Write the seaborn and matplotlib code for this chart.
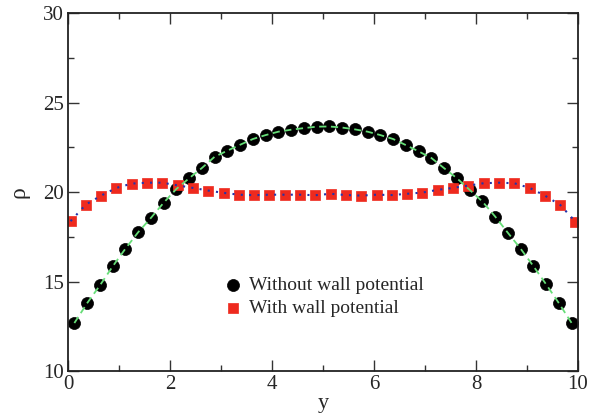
import numpy as np
import pandas as pd
import matplotlib
matplotlib.use("Agg")
import matplotlib.pyplot as plt
import seaborn as sns

# ── Data ─────────────────────────────────────────────────────────────────────
y_nowall = [0.125 + 0.25 * i for i in range(40)]
rho_nowall = [12.68, 13.79, 14.78, 15.84, 16.83, 17.75, 18.55, 19.40,
              20.17, 20.77, 21.34, 21.97, 22.31, 22.64, 22.96, 23.18,
              23.37, 23.48, 23.57, 23.65, 23.66, 23.60, 23.50, 23.37,
              23.18, 22.96, 22.62, 22.27, 21.90, 21.33, 20.77, 20.12,
              19.47, 18.63, 17.72, 16.83, 15.86, 14.84, 13.79, 12.68]

y_wall = [0.05 + 0.3 * i for i in range(34)]
rho_wall = [18.37, 19.30, 19.80, 20.23, 20.47, 20.52, 20.52, 20.37,
            20.23, 20.08, 19.95, 19.85, 19.82, 19.85, 19.85, 19.85,
            19.82, 19.90, 19.83, 19.80, 19.85, 19.83, 19.90, 19.97,
            20.12, 20.23, 20.36, 20.49, 20.52, 20.49, 20.23, 19.80,
            19.28, 18.34]

label_nowall = "Without wall potential"
label_wall = "With wall potential"

df_nowall = pd.DataFrame({"y": y_nowall, "rho": rho_nowall})
df_wall = pd.DataFrame({"y": y_wall, "rho": rho_wall})

# ── Plot ─────────────────────────────────────────────────────────────────────
sns.set_style("ticks")
plt.rcParams["font.family"] = ["Liberation Serif", "DejaVu Serif"]
plt.rcParams["mathtext.fontset"] = "stix"

fig = plt.figure(figsize=(6.05, 4.17), dpi=100)
ax = fig.add_axes([0.1124, 0.1103, 0.8430, 0.8585])

sns.scatterplot(data=df_nowall, x="y", y="rho", ax=ax, marker="o", s=75,
                color="black", edgecolor="black", linewidth=0.5,
                label=label_nowall, zorder=2)
sns.scatterplot(data=df_wall, x="y", y="rho", ax=ax, marker="s", s=60,
                color="#ee2a1e", edgecolor="#ee2a1e", linewidth=0.5,
                label=label_wall, zorder=2)
sns.lineplot(data=df_nowall, x="y", y="rho", ax=ax, color="#66dd77",
             linestyle=(0, (4, 2.5)), linewidth=1.3, zorder=3, legend=False)
sns.lineplot(data=df_wall, x="y", y="rho", ax=ax, color="#2233aa",
             linestyle=(0, (1, 3)), linewidth=1.5, zorder=3, legend=False)

ax.set_xlim(0, 10)
ax.set_ylim(10, 30)
ax.set_xticks([0, 2, 4, 6, 8, 10])
ax.set_xticks(np.arange(1, 10, 2), minor=True)
ax.set_yticks([10, 15, 20, 25, 30])
ax.set_yticks(np.arange(12.5, 30, 5), minor=True)
ax.tick_params(which="both", direction="in", top=True, right=True,
               labelsize=15, width=1, color="#333333")
ax.tick_params(which="major", length=8, pad=3)
ax.tick_params(which="minor", length=4)
for sp in ax.spines.values():
    sp.set_linewidth(1.3)
    sp.set_color("#222222")

ax.set_xlabel("y", fontsize=16, labelpad=0)
ax.set_ylabel("ρ", fontsize=17, labelpad=10)

ax.legend(loc="lower left", bbox_to_anchor=(0.29, 0.13), frameon=False,
          fontsize=14, handletextpad=0.3, labelspacing=0.25,
          handlelength=1.0, borderaxespad=0)

fig.savefig("out.png", dpi=100)
